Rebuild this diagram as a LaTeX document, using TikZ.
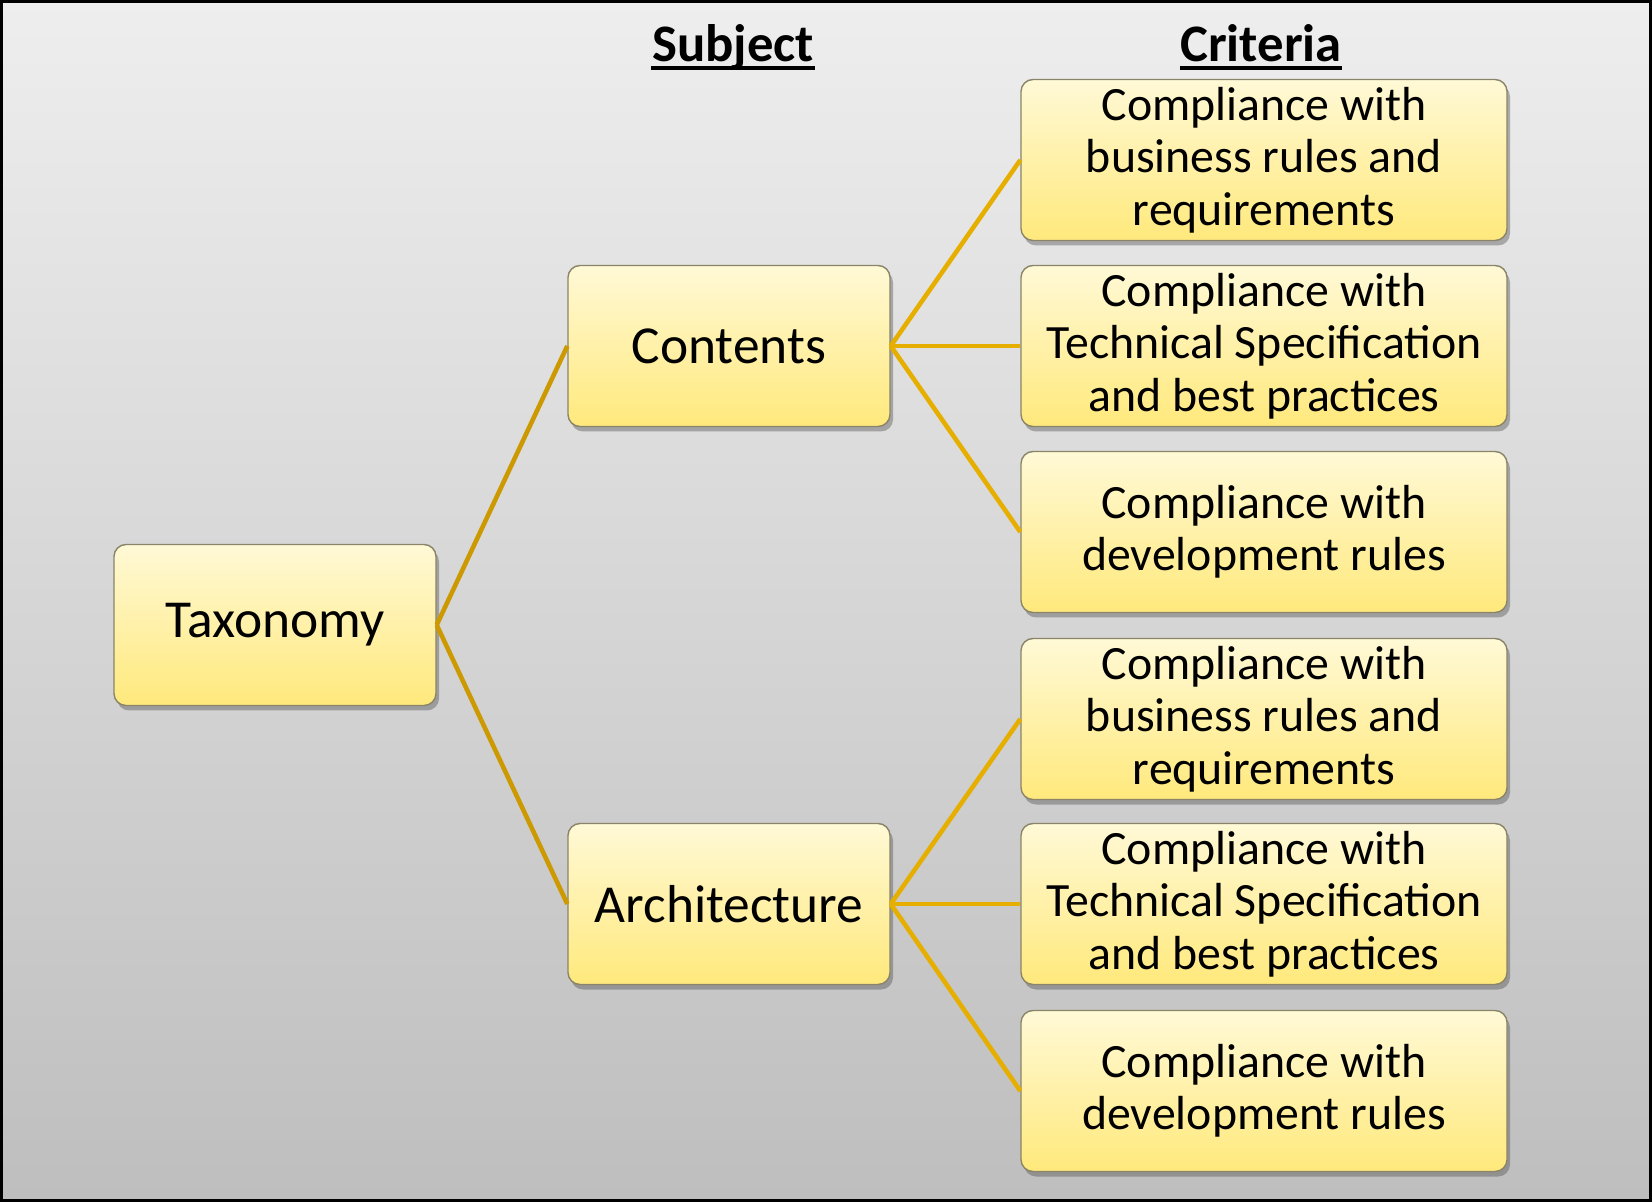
\documentclass[tikz,border=0pt]{standalone}
\usepackage{fontspec}
\setmainfont{Carlito}
\usetikzlibrary{shadows}

\definecolor{boxtop}{HTML}{FFF9D6}
\definecolor{boxbottom}{HTML}{FFE97C}
\definecolor{boxline}{HTML}{8A8468}
\definecolor{trunk}{HTML}{CC9900}
\definecolor{branch}{HTML}{E6AF00}
\definecolor{bgtop}{HTML}{EEEEEE}
\definecolor{bgbottom}{HTML}{BEBEBE}

\tikzset{
  box/.style={draw=boxline, line width=0.4pt, rounded corners=0.12cm,
    top color=boxtop, bottom color=boxbottom, minimum height=1.61cm,
    inner sep=0pt, align=center,
    drop shadow={shadow xshift=0.3mm, shadow yshift=-0.5mm, opacity=0.4, fill=black!70}},
  subject/.style={box, minimum width=3.22cm, font=\fontsize{15.2}{17}\selectfont},
  criterion/.style={box, minimum width=4.86cm, font=\fontsize{13.6}{14.9}\selectfont},
  heading/.style={anchor=base, inner sep=0pt, font=\fontsize{15}{18}\selectfont\bfseries},
  underbar/.style={line width=0.9pt},
  trunkline/.style={trunk, line width=1.3pt},
  branchline/.style={branch, line width=1.3pt},
}

\begin{document}
\begin{tikzpicture}
    % 1. background with grey gradient and frame
    \useasboundingbox (0,0) rectangle (16.52,-12.02);
    \shade[top color=bgtop, bottom color=bgbottom] (0,0) rectangle (16.52,-12.02);
    \draw[line width=0.9pt] (0.016,-0.016) rectangle (16.504,-12.004);

    % 2. column headings, underlined
    \node[heading] (subj) at (7.33,-0.62) {Subject};
    \node[heading] (crit) at (12.61,-0.62) {Criteria};
    \draw[underbar] ([yshift=-0.06cm]subj.base west) -- ([yshift=-0.06cm]subj.base east);
    \draw[underbar] ([yshift=-0.06cm]crit.base west) -- ([yshift=-0.06cm]crit.base east);

    % 3. root and subjects
    \node[subject] (tax)  at (2.75,-6.25) {Taxonomy};
    \node[subject] (cont) at (7.29,-3.46) {Contents};
    \node[subject] (arch) at (7.29,-9.04) {Architecture};

    % 4. criteria for each subject
    \node[criterion] (c1) at (12.64,-1.60) {Compliance with\\business rules and\\requirements};
    \node[criterion] (c2) at (12.64,-3.46) {Compliance with\\Technical Specification\\and best practices};
    \node[criterion] (c3) at (12.64,-5.32) {Compliance with\\development rules};
    \node[criterion] (c4) at (12.64,-7.19) {Compliance with\\business rules and\\requirements};
    \node[criterion] (c5) at (12.64,-9.04) {Compliance with\\Technical Specification\\and best practices};
    \node[criterion] (c6) at (12.64,-10.91) {Compliance with\\development rules};

    % 5. tree connectors
    \draw[trunkline] (tax.east) -- (cont.west);
    \draw[trunkline] (tax.east) -- (arch.west);
    \foreach \c in {c1,c2,c3}
      \draw[branchline] (cont.east) -- (\c.west);
    \foreach \c in {c4,c5,c6}
      \draw[branchline] (arch.east) -- (\c.west);
\end{tikzpicture}
\end{document}
